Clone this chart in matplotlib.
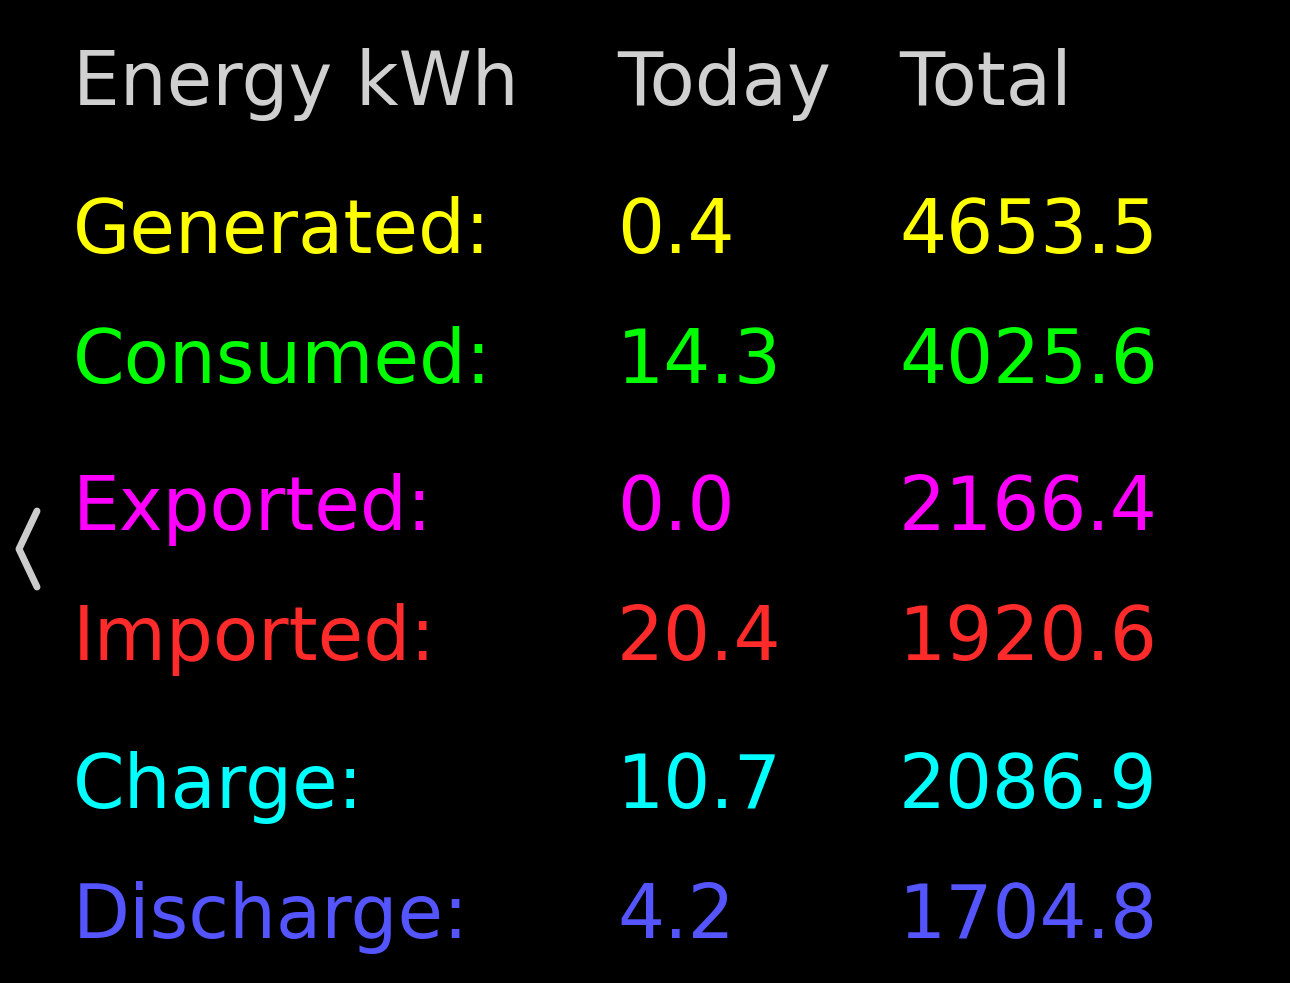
import matplotlib.pyplot as plt

# energy table values
labels = ["Generated:", "Consumed:", "Exported:", "Imported:", "Charge:", "Discharge:"]
today = [0.4, 14.3, 0.0, 20.4, 10.7, 4.2]
total = [4653.5, 4025.6, 2166.4, 1920.6, 2086.9, 1704.8]
colours = ["#ffff00", "#00ff00", "#ff00ff", "#ff2a2a", "#00ffff", "#5555ff"]
headers = ["Energy kWh", "Today", "Total"]

fig = plt.figure(figsize=(12.9, 9.83), dpi=100, facecolor="black")
ax = fig.add_axes([0, 0, 1, 1])
ax.set_facecolor("black")
ax.set_xlim(0, 1290)
ax.set_ylim(983, 0)
ax.axis("off")

col_x = [73, 617, 899]
row_y = [253, 383, 530, 660, 808, 938]
fs = 53.3

for x, h in zip(col_x, headers):
    ax.text(x, 105, h, color="#d0d0d0", fontsize=fs, va="baseline", ha="left")

for i in range(len(labels)):
    ax.text(col_x[0], row_y[i], labels[i], color=colours[i], fontsize=fs, va="baseline")
    ax.text(col_x[1], row_y[i], f"{today[i]:.1f}", color=colours[i], fontsize=fs, va="baseline")
    ax.text(col_x[2], row_y[i], f"{total[i]:.1f}", color=colours[i], fontsize=fs, va="baseline")

# little back arrow on the left
ax.plot([37, 19, 37], [511, 549, 587], color="#cccccc", lw=5, solid_capstyle="round")

fig.savefig("out.png", dpi=100, facecolor="black")
